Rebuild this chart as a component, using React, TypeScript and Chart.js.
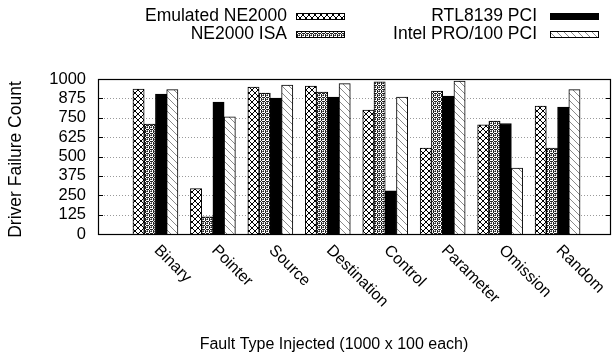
import React, { useEffect, useRef } from 'react';
import { Chart, registerables } from 'chart.js';

Chart.register(...registerables);

const categories = ['Binary', 'Pointer', 'Source', 'Destination', 'Control', 'Parameter', 'Omission', 'Random'];
const seriesNames = ['Emulated NE2000', 'NE2000 ISA', 'RTL8139 PCI', 'Intel PRO/100 PCI'];
const emulatedNE2000 = [935, 293, 948, 955, 800, 554, 705, 825];
const ne2000ISA = [709, 110, 909, 916, 981, 922, 728, 554];
const rtl8139PCI = [903, 851, 877, 884, 278, 890, 713, 819];
const intelPro100PCI = [931, 756, 961, 970, 884, 987, 425, 931];
const yTickValues = [0, 125, 250, 375, 500, 625, 750, 875, 1000];
const xTitle = 'Fault Type Injected (1000 x 100 each)';
const yTitle = 'Driver Failure Count';

const FONT = '"Liberation Sans", Arial, Helvetica, sans-serif';
const W = 613;
const H = 355;

function makeTile(w: number, h: number, draw: (c: CanvasRenderingContext2D) => void) {
  const cv = document.createElement('canvas');
  cv.width = w;
  cv.height = h;
  const c = cv.getContext('2d')!;
  c.fillStyle = '#fff';
  c.fillRect(0, 0, w, h);
  draw(c);
  return cv;
}

function makePatterns(ctx: CanvasRenderingContext2D): (CanvasPattern | string)[] {
  const cross = makeTile(6, 6, (c) => {
    c.fillStyle = '#000';
    for (let i = 0; i < 6; i++) {
      c.fillRect(i, i, 1, 1);
      c.fillRect(5 - i, i, 1, 1);
    }
  });
  const dots = makeTile(4, 4, (c) => {
    c.fillStyle = '#222';
    const px = [[1, 0], [0, 1], [2, 1], [1, 2], [3, 3], [3, 1], [1, 3]];
    px.forEach(([x, y]) => c.fillRect(x, y, 1, 1));
    c.fillStyle = '#777';
    c.fillRect(3, 2, 1, 1);
    c.fillRect(2, 3, 1, 1);
  });
  const hatch = makeTile(7, 7, (c) => {
    c.fillStyle = '#8a8a8a';
    for (let i = 0; i < 7; i++) c.fillRect(i, i, 1, 1);
  });
  return [
    ctx.createPattern(cross, 'repeat')!,
    ctx.createPattern(dots, 'repeat')!,
    '#000',
    ctx.createPattern(hatch, 'repeat')!,
  ];
}

export default function App() {
  const ref = useRef<HTMLCanvasElement | null>(null);

  useEffect(() => {
    const canvas = ref.current!;
    const ctx = canvas.getContext('2d')!;
    const patterns = makePatterns(ctx);
    const series = [emulatedNE2000, ne2000ISA, rtl8139PCI, intelPro100PCI];

    const drawPlugin = {
      id: 'gnuplotLook',
      beforeDatasetsDraw(chart: any) {
        const c = chart.ctx as CanvasRenderingContext2D;
        const { left, right } = chart.chartArea;
        const y = chart.scales.y;
        c.save();
        c.strokeStyle = '#9a9a9a';
        c.lineWidth = 1;
        c.setLineDash([1, 2]);
        yTickValues.forEach((v) => {
          if (v === 0 || v === 1000) return;
          const py = Math.round(y.getPixelForValue(v)) + 0.5;
          c.beginPath();
          c.moveTo(left, py);
          c.lineTo(right, py);
          c.stroke();
        });
        c.restore();
      },
      afterDatasetsDraw(chart: any) {
        const c = chart.ctx as CanvasRenderingContext2D;
        const { left, right, top, bottom } = chart.chartArea;
        const y = chart.scales.y;
        const x = chart.scales.x;
        c.save();
        // ticks (inward, mirrored)
        c.strokeStyle = '#000';
        c.lineWidth = 1;
        yTickValues.forEach((v) => {
          const py = Math.round(y.getPixelForValue(v)) + 0.5;
          c.beginPath();
          c.moveTo(left, py);
          c.lineTo(left + 5, py);
          c.moveTo(right - 5, py);
          c.lineTo(right, py);
          c.stroke();
        });
        // frame
        c.lineWidth = 1.2;
        c.strokeRect(Math.round(left) + 0.5, Math.round(top) + 0.5, Math.round(right - left) - 1, Math.round(bottom - top));

        // rotated category labels
        c.fillStyle = '#000';
        c.font = `16px ${FONT}`;
        c.textAlign = 'left';
        c.textBaseline = 'alphabetic';
        categories.forEach((cat, i) => {
          const px = x.getPixelForValue(i);
          c.save();
          c.translate(px - 2, bottom + 17);
          c.rotate(Math.PI / 4);
          c.fillText(cat, 0, 0);
          c.restore();
        });

        // axis titles
        c.textAlign = 'center';
        c.textBaseline = 'middle';
        c.fillText(xTitle, 334, 345);
        c.save();
        c.font = `17.5px ${FONT}`;
        c.translate(16, (top + bottom) / 2 + 3);
        c.rotate(-Math.PI / 2);
        c.fillText(yTitle, 0, 0);
        c.restore();

        // legend
        c.font = `17.5px ${FONT}`;
        const legendPos = [
          { tx: 287, sx: 296, y: 16 },
          { tx: 287, sx: 296, y: 34 },
          { tx: 537, sx: 550, y: 16 },
          { tx: 537, sx: 550, y: 34 },
        ];
        seriesNames.forEach((name, k) => {
          const p = legendPos[k];
          c.textAlign = 'right';
          c.textBaseline = 'middle';
          c.fillStyle = '#000';
          c.fillText(name, p.tx, p.y);
          c.fillStyle = patterns[k] as any;
          c.fillRect(p.sx, p.y - 3, 49, 7);
          c.strokeStyle = '#000';
          c.lineWidth = 1;
          c.strokeRect(p.sx + 0.5, p.y - 3 + 0.5, 48, 6);
        });
        c.restore();
      },
    };

    const chart = new Chart(canvas, {
      type: 'bar',
      data: {
        datasets: series.map((vals, k) => ({
          label: seriesNames[k],
          data: vals.map((v, i) => ({ x: i, y: v })),
          backgroundColor: patterns[k] as any,
          borderColor: '#000',
          borderWidth: 1,
          barThickness: 11.25,
        })),
      },
      options: {
        animation: false,
        responsive: false,
        devicePixelRatio: 1,
        layout: { padding: { top: 79, right: 2, left: 0, bottom: 0 } },
        plugins: { legend: { display: false }, tooltip: { enabled: false } },
        scales: {
          x: {
            type: 'linear',
            min: -1,
            max: 7.93,
            offset: false,
            ticks: { display: false, stepSize: 1 },
            grid: { display: false, drawTicks: false },
            border: { display: false },
            afterFit: (s: any) => {
              s.height = 121;
            },
          },
          y: {
            min: 0,
            max: 1000,
            afterBuildTicks: (s: any) => {
              s.ticks = yTickValues.map((v) => ({ value: v }));
            },
            ticks: {
              autoSkip: false,
              padding: 12,
              color: '#000',
              font: { family: FONT, size: 16.5 },
              callback: (v: any) => String(v),
            },
            grid: { display: false, drawTicks: false },
            border: { display: false },
            afterFit: (s: any) => {
              s.width = 98;
            },
          },
        },
      },
      plugins: [drawPlugin],
    } as any);

    return () => chart.destroy();
  }, []);

  return (
    <div style={{ position: 'fixed', left: 0, top: 0, width: W, height: H, background: '#fff' }}>
      <canvas ref={ref} width={W} height={H} />
    </div>
  );
}
